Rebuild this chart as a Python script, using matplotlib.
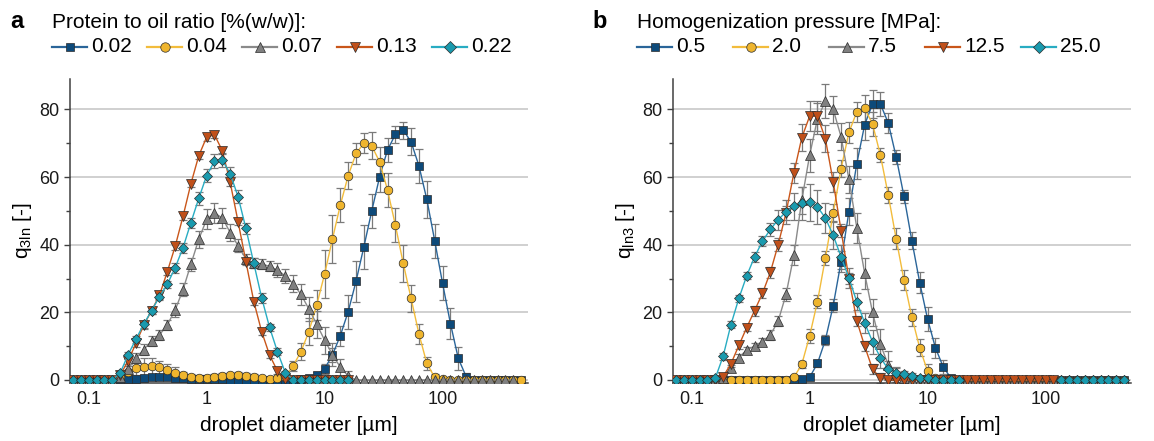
import numpy as np
import matplotlib
matplotlib.use('Agg')
import matplotlib.pyplot as plt
from matplotlib.lines import Line2D
from matplotlib.ticker import FixedLocator, NullFormatter, MultipleLocator

plt.rcParams['font.family'] = ['Liberation Sans', 'DejaVu Sans']

nan = np.nan

# droplet size classes [µm]
diameter = [0.07356, 0.08577, 0.1, 0.1166, 0.1359, 0.1585, 0.1848, 0.2154,
            0.2512, 0.2929, 0.3415, 0.3981, 0.4642, 0.5412, 0.6310, 0.7356,
            0.8577, 1.0, 1.166, 1.359, 1.585, 1.848, 2.154, 2.512,
            2.929, 3.415, 3.981, 4.642, 5.412, 6.310, 7.356, 8.577,
            10.0, 11.66, 13.59, 15.85, 18.48, 21.54, 25.12, 29.29,
            34.15, 39.81, 46.42, 54.12, 63.10, 73.56, 85.77, 100.0,
            116.6, 135.9, 158.5, 184.8, 215.4, 251.2, 292.9, 341.5,
            398.1, 464.2]

# ---- panel a: protein to oil ratio [%(w/w)] ----
ratio_labels = ['0.02', '0.04', '0.07', '0.13', '0.22']

q_a_002 = ([0] * 6 +
           [0.2, 0.3, 0.4, 0.6, 0.8, 1.0, 0.9, 0.7, 0.5, 0.4, 0.3, 0.3, 0.2, 0.2, 0.1] +
           [0] * 8 +
           [0.2, 0.5, 1.5, 3.3, 7.4, 13.1, 20.2, 29.2, 39.4, 50.0, 60.1, 68.0, 72.6,
            73.9, 70.4, 63.3, 53.4, 41.2, 28.6, 16.7, 6.4, 1.0] +
           [0] * 7)
err_a_002 = ([0] * 29 +
             [0.3, 0.5, 1.0, 1.5, 2.0, 3.0, 5.0, 6.0, 6.5, 5.0, 4.5, 3.5, 2.5, 2.5,
              4.0, 5.0, 5.5, 5.0, 5.0, 4.5, 3.5, 1.0] +
             [0] * 7)

q_a_004 = ([0] * 6 +
           [0.8, 2.5, 3.5, 3.9, 4.0, 3.7, 3.1, 2.2, 1.5, 0.9, 0.6, 0.7, 0.9, 1.2, 1.4,
            1.5, 1.3, 0.9, 0.5, 0.3, 0.5, 1.0] +
           [4.2, 8.4, 14.3, 22.2, 31.3, 41.7, 51.7, 60.4, 67.0, 70.0, 69.2, 64.5, 56.2,
            45.8, 34.5, 24.1, 13.6, 4.9, 0.8, 0.3] +
           [0] * 10)
err_a_004 = ([0] * 6 +
             [1.0, 1.5, 2.0, 2.5, 2.5, 2.0, 1.5, 1.5, 1.0, 1.0, 0.8, 0.8, 0.8, 0.8, 0.8,
              0.8, 0.8, 0.8, 0.5, 0.5, 0.5, 0.5] +
             [1.5, 2.5, 4.0, 4.5, 7.0, 7.0, 5.0, 4.0, 3.0, 3.0, 4.0, 4.5, 5.0, 5.0, 5.5,
              4.0, 3.0, 2.0, 1.0, 0.5] +
             [0] * 10)

q_a_007 = ([0] * 6 +
           [1.0, 3.3, 6.4, 9.0, 11.5, 13.3, 16.3, 20.7, 26.7, 34.2, 41.6, 47.5, 49.4,
            47.9, 43.6, 39.7, 35.8, 34.5, 34.3, 33.6, 32.5, 30.8, 28.5, 25.3, 21.0,
            16.5, 11.8, 7.5, 3.8, 1.2] +
           [0] * 21 + [nan])
err_a_007 = ([0] * 6 +
             [1.0, 1.5, 1.5, 1.5, 1.5, 1.5, 1.5, 2.0, 2.0, 2.0, 2.5, 3.0, 3.0, 3.0, 2.5,
              2.0, 1.5, 1.5, 1.5, 1.5, 2.0, 2.0, 2.5, 3.0, 3.5, 4.0, 4.0, 3.5, 2.5, 1.5] +
             [0] * 21 + [nan])

q_a_013 = ([0] * 6 +
           [1.5, 5.5, 10.8, 16.2, 20.5, 25.0, 32.0, 39.5, 48.4, 58.0, 66.3, 71.8, 72.5,
            67.8, 58.4, 46.8, 35.0, 23.2, 14.3, 7.4, 2.7, 0.2] +
           [0] * 8 + [nan] * 22)
err_a_013 = ([0] * 6 +
             [0.5, 0.8, 1.0, 1.0, 1.0, 1.0, 1.0, 1.0, 1.0, 1.0, 1.0, 1.0, 1.0, 1.0, 1.0,
              1.0, 1.0, 1.0, 1.0, 1.0, 0.8, 0.5] +
             [0] * 8 + [nan] * 22)

q_a_022 = ([0] * 6 +
           [2.0, 7.4, 12.0, 16.5, 20.5, 24.6, 28.3, 33.2, 39.1, 46.5, 53.7, 60.4, 64.7,
            65.0, 61.0, 54.2, 44.8, 34.5, 24.3, 15.6, 8.4, 2.2] +
           [0] * 8 + [nan] * 22)
err_a_022 = ([0] * 6 +
             [0.5, 1.0, 1.0, 1.0, 1.0, 1.0, 1.0, 1.5, 1.5, 1.5, 2.0, 2.0, 2.0, 2.0, 2.0,
              2.0, 1.5, 1.5, 1.5, 1.0, 1.0, 0.5] +
             [0] * 8 + [nan] * 22)

# ---- panel b: homogenization pressure [MPa] ----
pressure_labels = ['0.5', '2.0', '7.5', '12.5', '25.0']

q_b_05 = ([0] * 15 +
          [0.2, 0.4, 0.8, 4.9, 11.8, 22.0, 35.0, 49.8, 64.0, 75.5, 81.6, 81.6, 76.0,
           66.0, 54.3, 41.2, 28.8, 18.0, 9.5, 3.8, 0.5] +
          [0] * 22)
err_b_05 = ([0] * 17 +
            [0.5, 1.0, 1.5, 2.0, 3.0, 4.0, 4.5, 4.5, 4.0, 3.5, 3.0, 2.0, 2.0, 2.5, 3.0,
             3.5, 3.0, 2.0, 1.0] +
            [0] * 22)

q_b_20 = ([0] * 15 +
          [0.8, 4.6, 13.0, 23.2, 36.0, 49.4, 62.5, 73.2, 79.3, 80.3, 75.7, 66.5, 54.7,
           41.8, 29.5, 18.6, 9.5, 2.6, 0.5] +
          [0] * 24)
err_b_20 = ([0] * 15 +
            [0.5, 1.0, 2.0, 2.0, 2.0, 2.5, 2.5, 3.0, 3.0, 4.0, 3.5, 2.0, 2.5, 3.0, 3.0,
             2.5, 2.5, 2.0, 1.0] +
            [0] * 24)

q_b_75 = ([0] * 6 +
          [0.5, 3.4, 6.6, 8.9, 10.0, 11.3, 13.3, 17.4, 25.3, 36.9, 53.1, 66.4, 77.3,
           82.4, 80.0, 71.9, 59.4, 45.0, 31.5, 20.0, 10.5, 4.5, 1.5, 0.5] +
          [0] * 28)
err_b_75 = ([0] * 6 +
            [0.5, 1.0, 1.0, 1.0, 1.0, 1.0, 1.5, 1.5, 2.0, 3.0, 4.0, 5.0, 4.5, 5.0, 4.0,
             4.0, 4.0, 4.5, 4.5, 4.0, 4.5, 4.0, 2.0, 1.0] +
            [0] * 28)

q_b_125 = ([0] * 6 +
           [1.0, 4.8, 10.2, 15.5, 20.5, 25.6, 31.8, 40.0, 49.4, 61.2, 71.6, 78.0, 78.0,
            71.4, 58.6, 44.2, 30.0, 17.5, 10.0, 3.2, 0.6] +
           [0] * 22 + [nan] * 9)
err_b_125 = ([0] * 6 +
             [0.5, 1.0, 1.0, 1.0, 1.5, 1.5, 1.5, 2.0, 2.0, 3.0, 4.0, 4.5, 4.5, 4.0, 3.0,
              2.0, 1.5, 1.5, 1.5, 1.5, 1.5] +
             [0] * 22 + [nan] * 9)

q_b_250 = ([0] * 5 +
           [0.5, 7.0, 16.4, 24.1, 30.8, 36.4, 41.0, 44.5, 47.4, 49.7, 51.4, 52.2, 52.5,
            51.2, 47.9, 42.8, 36.4, 30.2, 23.1, 16.9, 11.3, 6.6, 3.2, 2.2, 1.7, 1.2,
            0.7, 0.5] +
           [0] * 4 + [nan] * 12 + [0] * 9)
err_b_250 = ([0] * 5 +
             [0.3, 1.0, 1.0, 1.0, 1.0, 1.5, 1.5, 2.0, 3.0, 3.5, 4.0, 5.0, 5.5, 5.0, 4.5,
              4.0, 3.5, 3.0, 2.5, 3.0, 3.5, 3.0, 2.5, 1.5, 1.0, 1.0, 0.5, 0.5] +
             [0] * 4 + [nan] * 12 + [0] * 9)

# styles: (line colour, marker fill, marker, size)
styles = [('#2a6599', '#0d4a7a', 's', 5.6),
          ('#f2bc3c', '#efb52e', 'o', 6.2),
          ('#8a8a8a', '#808080', '^', 6.8),
          ('#c9561a', '#c0501a', 'v', 6.8),
          ('#28acc2', '#1a9aae', 'D', 5.4)]

W, H = 1154, 441


def draw_legend(fig, labels, title, x0, step):
    y_title = 1 - 22 / H
    y_row = 1 - 47 / H
    fig.text(x0 / W, y_title, title, fontsize=15, va='center', ha='left')
    for i, lab in enumerate(labels):
        lc, fc, m, ms = styles[i]
        x1 = x0 + i * step
        x2 = x1 + 35
        fig.add_artist(Line2D([x1 / W, x2 / W], [y_row, y_row],
                              transform=fig.transFigure, color=lc, lw=1.6))
        fig.add_artist(Line2D([(x1 + x2) / 2 / W], [y_row], transform=fig.transFigure,
                              marker=m, ms=ms + 0.6, mfc=fc, mec='#2b2b2b', mew=0.5,
                              linestyle='none'))
        fig.text((x2 + 4) / W, y_row, lab, fontsize=15, va='center', ha='left')


def draw_panel(ax, series, errors, ylabel):
    for q, err in zip(series, errors):
        ax.errorbar(diameter, q, yerr=err, fmt='none', ecolor='#7a7a7a',
                    elinewidth=0.9, capsize=2.6, capthick=0.9, zorder=2)
    for i, q in enumerate(series):
        lc, fc, m, ms = styles[i]
        ax.plot(diameter, q, color=lc, lw=1.0, marker=m, ms=ms, mfc=fc,
                mec='#2b2b2b', mew=0.5, zorder=3 + i)

    ax.set_xscale('log')
    ax.set_xlim(0.0695, 530)
    ax.set_ylim(-0.8, 89)
    ax.xaxis.set_major_locator(FixedLocator([0.1, 1, 10, 100]))
    ax.set_xticklabels(['0.1', '1', '10', '100'])
    ax.xaxis.set_minor_locator(FixedLocator([]))
    ax.xaxis.set_minor_formatter(NullFormatter())
    ax.yaxis.set_major_locator(MultipleLocator(20))
    ax.yaxis.set_minor_locator(MultipleLocator(10))
    ax.grid(axis='y', which='major', color='#c4c4c4', lw=1.1)
    ax.set_axisbelow(True)
    for s in ['top', 'right']:
        ax.spines[s].set_visible(False)
    for s in ['left', 'bottom']:
        ax.spines[s].set_color('#404040')
        ax.spines[s].set_linewidth(1.1)
    ax.tick_params(axis='both', which='major', labelsize=13, colors='#404040',
                   labelcolor='#1a1a1a', length=4, width=1.0)
    ax.tick_params(axis='x', which='major', length=0, pad=6)
    ax.tick_params(axis='y', which='minor', length=3, width=1.0, colors='#404040')
    ax.set_xlabel('droplet diameter [µm]', fontsize=15, labelpad=6)
    ax.set_ylabel(ylabel, fontsize=15, labelpad=4)


fig = plt.figure(figsize=(W / 100, H / 100), dpi=100)
bottom = (H - 382.7) / H
height = (382.7 - 79) / H
ax_a = fig.add_axes([70 / W, bottom, 458 / W, height])
ax_b = fig.add_axes([673 / W, bottom, 458 / W, height])

draw_panel(ax_a, [q_a_002, q_a_004, q_a_007, q_a_013, q_a_022],
           [err_a_002, err_a_004, err_a_007, err_a_013, err_a_022],
           r'q$_{\mathregular{3ln}}$ [-]')
draw_panel(ax_b, [q_b_05, q_b_20, q_b_75, q_b_125, q_b_250],
           [err_b_05, err_b_20, err_b_75, err_b_125, err_b_250],
           r'q$_{\mathregular{ln3}}$ [-]')

fig.text(10 / W, 1 - 22 / H, 'a', fontsize=17, fontweight='bold', va='center')
fig.text(592 / W, 1 - 22 / H, 'b', fontsize=17, fontweight='bold', va='center')
draw_legend(fig, ratio_labels, 'Protein to oil ratio [%(w/w)]:', 52, 95)
draw_legend(fig, pressure_labels, 'Homogenization pressure [MPa]:', 637, 96)

fig.savefig('out.png', dpi=100)
